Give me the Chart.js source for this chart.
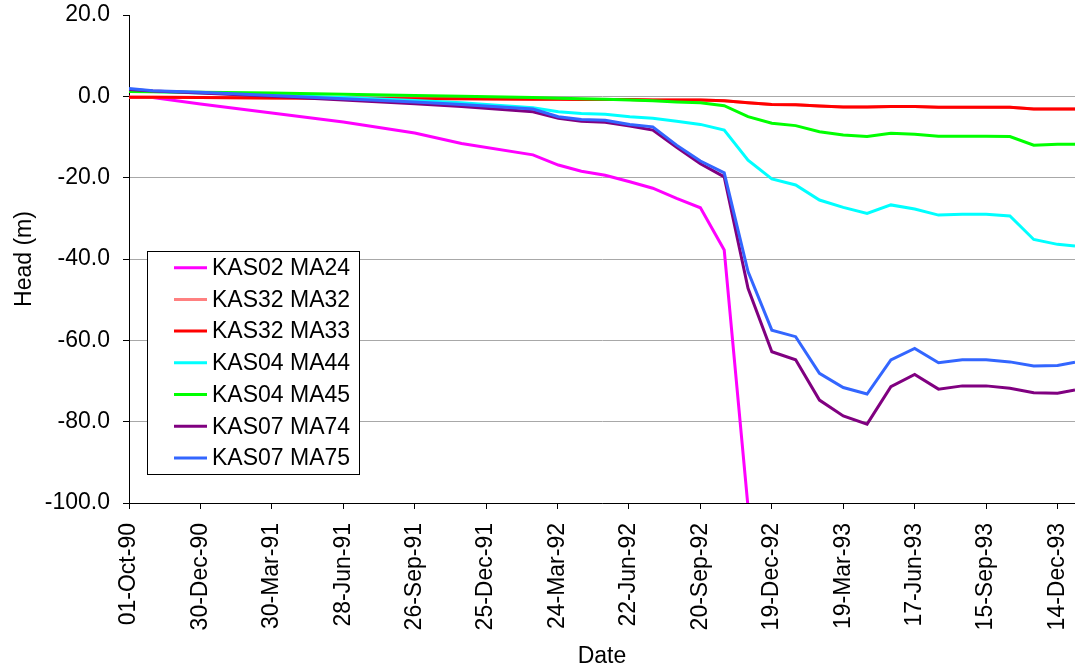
<!DOCTYPE html>
<html>
<head>
<meta charset="utf-8">
<script src="https://cdn.jsdelivr.net/npm/chart.js@4/dist/chart.umd.min.js"></script>
<style>
  body { margin: 0; background: #fff; }
  #wrap { width: 1075px; height: 670px; position: relative; }
</style>
</head>
<body>
<div id="wrap"><canvas id="grafico"></canvas></div>
<script>
// days since 01-Oct-90
const days = [0, 30, 90, 180, 270, 360, 419, 509, 541, 570, 600, 631, 660, 690, 720, 750,
  780, 810, 840, 870, 900, 930, 960, 990, 1020, 1050, 1080, 1110, 1140, 1170, 1192]

const ma24 = [-0.2, -0.3, -1.9, -4.1, -6.3, -9.0, -11.6, -14.4, -16.9, -18.4, -19.4, -21.0, -22.6, -25.1, -27.4, -37.8,
  -101, null, null, null, null, null, null, null, null, null, null, null, null, null, null]
const ma32 = [-0.2, -0.2, -0.3, -0.4, -0.5, -0.6, -0.6, -0.7, -0.7, -0.8, -0.8, -0.8, -0.9, -0.9, -0.9, -1.1,
  -1.6, -2.0, -2.1, -2.4, -2.6, -2.6, -2.5, -2.5, -2.7, -2.7, -2.7, -2.7, -3.1, -3.1, -3.1]
const ma33 = [-0.2, -0.2, -0.3, -0.4, -0.5, -0.6, -0.6, -0.7, -0.7, -0.8, -0.8, -0.8, -0.9, -0.9, -0.9, -1.1,
  -1.6, -2.0, -2.1, -2.4, -2.6, -2.6, -2.5, -2.5, -2.7, -2.7, -2.7, -2.7, -3.1, -3.1, -3.1]
const ma44 = [1.5, 1.2, 0.8, 0.3, -0.3, -1.0, -1.6, -2.8, -3.8, -4.2, -4.4, -5.0, -5.4, -6.1, -6.9, -8.3,
  -15.7, -20.3, -21.8, -25.5, -27.3, -28.8, -26.7, -27.7, -29.2, -29.0, -29.0, -29.4, -35.2, -36.4, -36.8]
const ma45 = [1.2, 1.1, 1.0, 0.8, 0.5, 0.2, 0.0, -0.3, -0.5, -0.6, -0.7, -0.9, -1.1, -1.4, -1.6, -2.3,
  -5.0, -6.6, -7.2, -8.7, -9.5, -9.9, -9.1, -9.3, -9.8, -9.8, -9.8, -9.9, -12.0, -11.8, -11.8]
const ma74 = [1.7, 1.3, 0.8, 0.0, -0.9, -1.8, -2.5, -3.8, -5.4, -6.1, -6.4, -7.3, -8.3, -12.5, -16.6, -19.8,
  -47.2, -62.8, -64.8, -74.7, -78.6, -80.6, -71.4, -68.4, -72.0, -71.2, -71.2, -71.8, -72.9, -73.0, -72.2]
const ma75 = [1.9, 1.4, 1.0, 0.2, -0.6, -1.4, -2.0, -3.1, -5.0, -5.7, -5.9, -6.9, -7.5, -12.0, -15.9, -18.8,
  -43.1, -57.5, -59.1, -68.1, -71.6, -73.2, -64.8, -62.0, -65.5, -64.8, -64.8, -65.3, -66.3, -66.2, -65.4]

const nombres = ["KAS02 MA24", "KAS32 MA32", "KAS32 MA33", "KAS04 MA44", "KAS04 MA45", "KAS07 MA74", "KAS07 MA75"]
const colores = ["#ff00ff", "#ff8080", "#ff0000", "#00ffff", "#00ff00", "#800080", "#3366ff"]
const series = [ma24, ma32, ma33, ma44, ma45, ma74, ma75]

const tickStep = 90
const tickLabels = ["01-Oct-90", "30-Dec-90", "30-Mar-91", "28-Jun-91", "26-Sep-91", "25-Dec-91", "24-Mar-92",
  "22-Jun-92", "20-Sep-92", "19-Dec-92", "19-Mar-93", "17-Jun-93", "15-Sep-93", "14-Dec-93"]

const fuente = "'Liberation Sans', Arial, sans-serif"

let datasets = series.map(function (s, i) {
    return {
        label: nombres[i],
        data: days.map((d, j) => ({ x: d, y: s[j] })),
        borderColor: colores[i],
        backgroundColor: colores[i],
        borderWidth: 3,
        pointRadius: 0,
        tension: 0,
        fill: false,
        order: series.length - i   // last series on top, like Excel
    }
})

// legend box inside the plot
const leyenda = {
    id: "leyenda",
    afterDraw(chart) {
        const ctx = chart.ctx
        ctx.save()
        ctx.fillStyle = "#fff"
        ctx.fillRect(147.5, 251.5, 212, 223)
        ctx.strokeStyle = "#000"
        ctx.lineWidth = 1
        ctx.strokeRect(147.5, 251.5, 212, 223)
        ctx.font = "23px " + fuente
        ctx.textBaseline = "middle"
        ctx.textAlign = "left"
        for (let i = 0; i < nombres.length; i++) {
            let y = 267.7 + i * 31.7
            ctx.strokeStyle = colores[i]
            ctx.lineWidth = 3
            ctx.beginPath()
            ctx.moveTo(174, y)
            ctx.lineTo(207, y)
            ctx.stroke()
            ctx.fillStyle = "#000"
            ctx.fillText(nombres[i], 212, y + 1)
        }
        ctx.restore()
    }
}

function sinPadding(scale) {
    scale.paddingTop = 0
    scale.paddingBottom = 0
    scale.paddingLeft = 0
    scale.paddingRight = 0
}

const ctx = document.getElementById("grafico").getContext("2d")
const chart = new Chart(ctx, {
    type: "line",
    data: { datasets: datasets },
    plugins: [leyenda],
    options: {
        responsive: true,
        maintainAspectRatio: false,
        animation: false,
        layout: { padding: { top: 15, right: 0, left: 0, bottom: 0 } },
        plugins: {
            legend: { display: false },
            tooltip: { enabled: false }
        },
        scales: {
            x: {
                type: "linear",
                min: 0,
                max: 1192,
                afterBuildTicks: function (scale) {
                    scale.ticks = tickLabels.map((t, i) => ({ value: i * tickStep }))
                },
                afterFit: function (scale) {
                    scale.height = 167
                    sinPadding(scale)
                },
                grid: { drawOnChartArea: false, drawTicks: true, tickLength: 6, tickColor: "#000" },
                border: { color: "#000", width: 1 },
                ticks: {
                    autoSkip: false,
                    maxRotation: 90,
                    minRotation: 90,
                    padding: 14,
                    color: "#000",
                    font: { family: fuente, size: 23 },
                    callback: function (v) { return tickLabels[Math.round(v / tickStep)] }
                },
                title: {
                    display: true,
                    text: "Date",
                    color: "#000",
                    font: { family: fuente, size: 23 },
                    padding: { top: 0, bottom: 0 }
                }
            },
            y: {
                min: -100,
                max: 20,
                afterFit: function (scale) {
                    scale.width = 129
                    sinPadding(scale)
                },
                grid: {
                    color: function (c) { return c.tick && c.tick.value === 20 ? "rgba(0,0,0,0)" : "#a8a8a8" },
                    tickColor: "#000",
                    tickLength: 6
                },
                border: { color: "#000", width: 1 },
                ticks: {
                    stepSize: 20,
                    padding: 13,
                    color: "#000",
                    font: { family: fuente, size: 23 },
                    callback: function (v) { return v.toFixed(1) }
                },
                title: {
                    display: true,
                    text: "Head (m)",
                    color: "#000",
                    font: { family: fuente, size: 23 },
                    padding: { top: 11, bottom: 0 }
                }
            }
        }
    }
})
</script>
</body>
</html>
